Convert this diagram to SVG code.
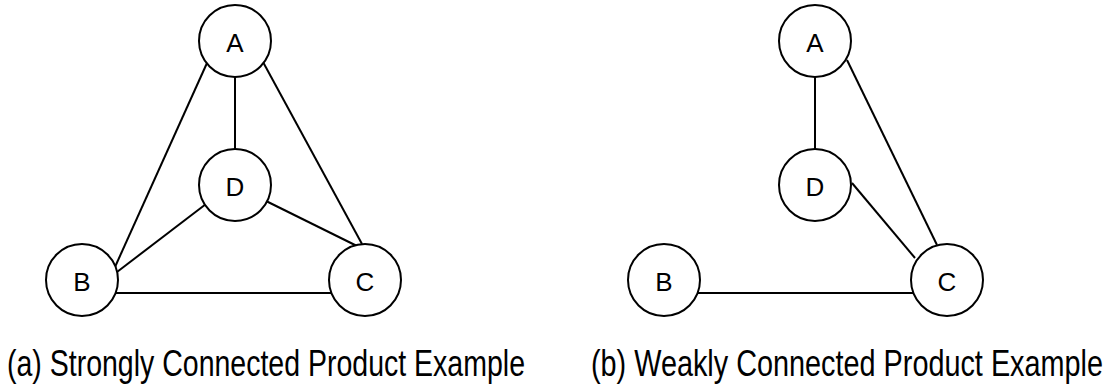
<svg xmlns="http://www.w3.org/2000/svg" width="1108" height="392" viewBox="0 0 1108 392">
<style>
.n{fill:#fff;stroke:#000;stroke-width:2}
.l{font-family:"Liberation Sans",Arial,sans-serif;font-size:26px;fill:#000;text-anchor:middle}
.e line{stroke:#000;stroke-width:2}
.cap{font-family:"Liberation Sans",Arial,sans-serif;font-size:28.5px;fill:#000}
</style>
<rect width="1108" height="392" fill="#fff"/>
<g class="e" id="connectors">
<line x1="235" y1="77" x2="235" y2="149"/>
<line x1="207" y1="63" x2="115" y2="267"/>
<line x1="206" y1="204" x2="117" y2="272"/>
<line x1="264" y1="200" x2="357" y2="246"/>
<line x1="263" y1="62" x2="362" y2="244"/>
<line x1="116" y1="293" x2="331" y2="293"/>
<line x1="815" y1="77" x2="815" y2="149"/>
<line x1="847" y1="60" x2="937" y2="245"/>
<line x1="852" y1="183" x2="915" y2="258"/>
<line x1="698" y1="293" x2="913" y2="293"/>
</g>
<g id="a-A"><circle class="n" cx="235" cy="41" r="36"/><text class="l" x="235" y="52">A</text></g>
<g id="a-D"><circle class="n" cx="235" cy="185" r="36"/><text class="l" x="235" y="196">D</text></g>
<g id="a-B"><circle class="n" cx="82" cy="280" r="36"/><text class="l" x="82" y="291">B</text></g>
<g id="a-C"><circle class="n" cx="365" cy="280" r="36"/><text class="l" x="365" y="291">C</text></g>
<g id="b-A"><circle class="n" cx="815" cy="41" r="36"/><text class="l" x="815" y="52">A</text></g>
<g id="b-D"><circle class="n" cx="815" cy="185" r="36"/><text class="l" x="815" y="196">D</text></g>
<g id="b-B"><circle class="n" cx="664" cy="280" r="36"/><text class="l" x="664" y="291">B</text></g>
<g id="b-C"><circle class="n" cx="947" cy="280" r="36"/><text class="l" x="947" y="291">C</text></g>
<g transform="scale(1,1.3)">
<text class="cap" x="7" y="289.2" textLength="518" lengthAdjust="spacingAndGlyphs">(a) Strongly Connected Product Example</text>
<text class="cap" x="591" y="289.2" textLength="512" lengthAdjust="spacingAndGlyphs">(b) Weakly Connected Product Example</text>
</g>
</svg>
